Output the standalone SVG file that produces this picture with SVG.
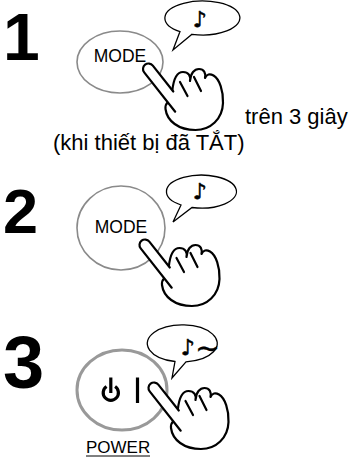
<svg xmlns="http://www.w3.org/2000/svg" xmlns:xlink="http://www.w3.org/1999/xlink" width="358" height="459" viewBox="0 0 358 459">
  <style>
    .num { font-family: "Liberation Sans", Arial, sans-serif; font-weight: bold; fill: #000; }
    .lbl { font-family: "Liberation Sans", Arial, sans-serif; fill: #000; }
    .btn { fill: none; stroke: #8a8a8a; stroke-width: 1.6; }
    .btn-power { fill: none; stroke: #999; stroke-width: 3; }
    .bubble { fill: #fff; stroke: #000; stroke-width: 1.3; stroke-linejoin: miter; }
    .note { font-family: "DejaVu Sans", sans-serif; fill: #000; stroke: #000; stroke-width: 0.6; }
    .hand { fill: #fff; stroke: #000; stroke-width: 2.2; stroke-linejoin: round; stroke-linecap: round; }
    .hand-fill { fill: #fff; stroke: none; }
    .hand-line { fill: none; stroke: #000; stroke-width: 2.2; stroke-linecap: round; stroke-linejoin: round; }
    .icon { fill: none; stroke: #000; stroke-width: 3.2; stroke-linecap: butt; }
  </style>
  <defs>
    <!-- pressing hand, origin at the index fingertip -->
    <g id="hand">
      <path class="hand" d="M 22,32 L 23.8,21.8 C 25,10 28.5,3 34.5,3 C 40,3 42.5,7 41.5,12 C 42,4 46,0 50.5,0 C 55.5,0 57.5,4 56.5,9 C 58,5 61.5,4.5 65,6.5 C 71,10 75,22 74.5,34 C 74,50 62,61 47,61 C 30,61 18.5,52 17,40 C 16.7,37 17.5,35 19.3,33.3 Z"/>
      <path class="hand-fill" d="M -4.32,3.41 A 5.5 5.5 0 0 1 4.32,-3.41 L 24.8,22.5 L 26.7,42.7 Z"/>
      <path class="hand-line" d="M 26.7,42.7 L -4.32,3.41 A 5.5 5.5 0 0 1 4.32,-3.41 L 24.8,22.5"/>
      <path class="hand-line" d="M 31.5,13 L 39,27 M 45.5,8 L 52.5,22"/>
    </g>
  </defs>

  <!-- step 1 -->
  <g id="step1">
    <text class="num" x="3" y="60" font-size="66">1</text>
    <ellipse class="btn" cx="120" cy="62" rx="43" ry="31"/>
    <text class="lbl" x="120" y="62" font-size="17.5" text-anchor="middle">MODE</text>
    <path class="bubble" d="M 180,31.6 L 173,50 L 192,34.3 A 37.5 17 0 1 0 180,31.6 Z"/>
    <text class="note" x="200" y="27" font-size="22" text-anchor="middle">♪︎</text>
    <use xlink:href="#hand" x="148.5" y="69"/>
    <text class="lbl" x="245" y="124" font-size="22">trên 3 giây</text>
    <text class="lbl" x="53" y="150" font-size="22">(khi thiết bị đã TẮT)</text>
  </g>

  <!-- step 2 -->
  <g id="step2">
    <text class="num" x="3" y="233" font-size="63">2</text>
    <ellipse class="btn" cx="121" cy="228" rx="44" ry="42"/>
    <text class="lbl" x="121" y="233" font-size="17.5" text-anchor="middle">MODE</text>
    <path class="bubble" d="M 181,205 L 173,222 L 192,207.5 A 35 16.5 0 1 0 181,205 Z"/>
    <text class="note" x="200" y="199" font-size="22" text-anchor="middle">♪︎</text>
    <use xlink:href="#hand" x="145" y="245"/>
  </g>

  <!-- step 3 -->
  <g id="step3">
    <text class="num" x="3" y="388" font-size="74">3</text>
    <ellipse class="btn-power" cx="122" cy="390" rx="45" ry="40"/>
    <path class="icon" d="M 106.5,386.5 A 7.6 7.6 0 1 0 115.1,386.5 M 110.8,377.5 L 110.8,393"/>
    <path class="icon" d="M 137.5,377.5 L 137.5,403"/>
    <path class="bubble" d="M 175,361.5 L 172,378 L 186,361.8 A 35 18.5 0 1 0 175,361.5 Z"/>
    <text class="note" x="181" y="355" font-size="22">♪︎<tspan font-size="30" dy="3" stroke-width="0.3">~</tspan></text>
    <use xlink:href="#hand" x="154" y="388"/>
    <text class="lbl" x="86" y="453" font-size="17">POWER</text>
    <line x1="86" y1="456" x2="150" y2="456" stroke="#000" stroke-width="1"/>
  </g>
</svg>
